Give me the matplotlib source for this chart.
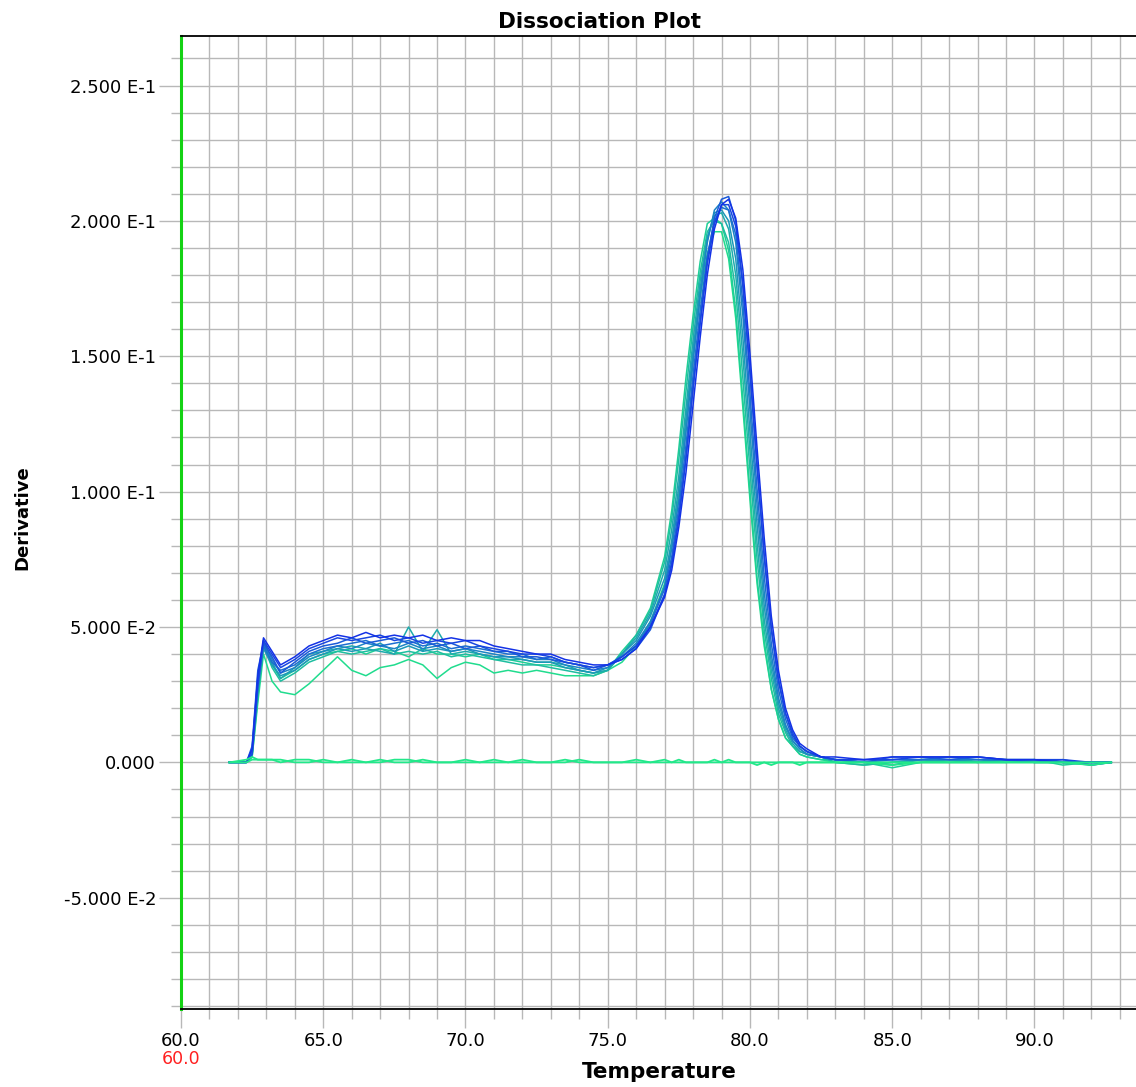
import matplotlib
matplotlib.use("Agg")
import matplotlib.pyplot as plt
from matplotlib.ticker import FixedLocator

plt.rcParams['font.family'] = ['DejaVu Sans']

# ---------------- data ----------------
temperature = [61.7, 62.3, 62.5, 62.7, 62.9,
               63.2, 63.5, 64.0, 64.5, 65.0, 65.5, 66.0, 66.5, 67.0, 67.5, 68.0, 68.5,
               69.0, 69.5, 70.0, 70.5, 71.0, 71.5, 72.0, 72.5, 73.0, 73.5, 74.0, 74.5, 75.0,
               75.5, 76.0, 76.5, 77.0, 77.25, 77.5, 77.75, 78.0, 78.25, 78.5, 78.75, 79.0,
               79.25, 79.5, 79.75, 80.0, 80.25, 80.5, 80.75, 81.0, 81.25, 81.5, 81.75, 82.0, 82.5,
               83.0, 84.0, 85.0, 86.0, 87.0, 88.0, 89.0, 90.0, 91.0, 92.0, 92.7]

well_1 = [0, 0, .005, .032, .046,
          .041, .036, .039, .043, .045, .047, .046, .048, .046, .047, .046, .047, .045, .046, .045, .045, .043, .042, .041, .040, .040, .038, .037, .036, .036,
          .038, .042, .050, .061, .071, .087, .107, .132, .157, .180, .197, .206, .208, .201, .182, .151, .116, .083, .054, .034, .020, .012, .007, .005, .002,
          .002, .001, .002, .002, .002, .002, .001, .001, .000, .000, .000]
well_2 = [0, 0, .003, .028, .045,
          .040, .035, .038, .042, .044, .046, .045, .046, .047, .045, .046, .044, .045, .044, .045, .043, .042, .041, .040, .040, .039, .037, .036, .035, .036,
          .039, .043, .050, .062, .073, .090, .112, .138, .162, .184, .199, .206, .206, .198, .176, .144, .109, .076, .049, .030, .018, .010, .006, .004, .002,
          .001, .001, .001, .002, .002, .002, .001, .001, .001, .000, .000]
well_3 = [0, 0, .006, .034, .044,
          .039, .033, .037, .041, .043, .044, .046, .044, .045, .046, .044, .045, .043, .044, .042, .043, .041, .041, .039, .039, .038, .037, .036, .034, .036,
          .038, .042, .049, .062, .074, .091, .113, .139, .163, .186, .201, .208, .209, .200, .177, .145, .110, .077, .050, .031, .018, .011, .006, .004, .002,
          .001, .000, .002, .002, .001, .002, .001, .000, .001, -.001, .000]
well_4 = [0, 0, .004, .030, .043,
          .037, .034, .036, .040, .042, .043, .044, .045, .043, .044, .045, .043, .044, .042, .043, .042, .041, .040, .040, .038, .039, .037, .036, .035, .036,
          .039, .043, .051, .064, .076, .094, .117, .143, .167, .187, .200, .205, .204, .195, .170, .136, .101, .069, .044, .027, .016, .009, .006, .004, .002,
          .001, .001, .001, .001, .002, .001, .001, .001, .000, .000, .000]
well_5 = [0, 0, .005, .031, .045,
          .038, .033, .035, .039, .041, .043, .042, .044, .043, .042, .044, .042, .043, .041, .042, .041, .040, .039, .039, .038, .038, .036, .035, .034, .035,
          .039, .044, .052, .065, .079, .097, .122, .148, .172, .192, .204, .207, .204, .192, .165, .130, .095, .063, .040, .024, .014, .008, .005, .003, .002,
          .001, .000, .001, .001, .001, .001, .001, .000, .000, .000, .000]
well_6 = [0, 0, .003, .026, .042,
          .036, .032, .034, .038, .040, .042, .041, .042, .044, .041, .043, .041, .042, .041, .042, .040, .039, .039, .038, .037, .037, .035, .034, .033, .035,
          .040, .045, .054, .068, .082, .102, .127, .152, .175, .193, .203, .204, .200, .186, .157, .122, .088, .058, .037, .022, .013, .008, .005, .003, .002,
          .001, .000, -.001, .001, .001, .000, .001, .001, .000, -.001, .000]
well_7 = [0, 0, .004, .029, .044,
          .037, .031, .035, .040, .041, .042, .043, .042, .041, .040, .050, .041, .049, .040, .041, .040, .039, .038, .038, .037, .037, .036, .034, .033, .034,
          .040, .046, .055, .071, .086, .106, .131, .156, .178, .194, .202, .203, .197, .180, .150, .115, .081, .053, .034, .020, .012, .007, .004, .003, .002,
          .000, .000, .000, .001, .001, .000, .001, .000, .000, .000, .000]
well_8 = [0, 0, .002, .024, .043,
          .035, .030, .033, .037, .039, .041, .040, .041, .042, .040, .041, .040, .041, .039, .040, .039, .038, .037, .036, .036, .035, .034, .033, .032, .034,
          .040, .047, .056, .074, .090, .112, .137, .161, .181, .196, .200, .199, .192, .174, .142, .108, .075, .049, .031, .018, .011, .006, .004, .003, .002,
          .000, -.001, .000, .001, .000, .001, .000, .001, .000, .000, .000]
well_9 = [0, 0, .003, .027, .044,
          .036, .031, .034, .038, .040, .041, .042, .040, .042, .041, .039, .042, .040, .040, .039, .040, .038, .038, .037, .036, .036, .035, .034, .033, .034,
          .041, .047, .057, .076, .093, .116, .142, .165, .185, .199, .201, .199, .189, .167, .134, .100, .068, .045, .027, .016, .009, .006, .003, .002, .001,
          .001, .000, -.002, .000, .001, .000, .000, .001, -.001, .000, .000]
well_10 = [0, 0, .002, .022, .040,
           .030, .026, .025, .029, .034, .039, .034, .032, .035, .036, .038, .036, .031, .035, .037, .036, .033, .034, .033, .034, .033, .032, .032, .032, .034,
           .037, .043, .052, .066, .080, .099, .124, .150, .172, .188, .196, .196, .186, .164, .131, .097, .066, .043, .027, .016, .009, .006, .003, .002, .001,
           .000, -.001, .000, .000, .000, .000, .001, .000, .000, .000, .000]
ntc_1 = [0, .000, .001, .001, .001,
         .001, .000, .001, .001, .000, .000, .001, .000, .000, .001, .001, .000, .000, .000, .001, .000, .000, .000, .001, .000, .000, .000, .001, .000, .000,
         .000, .001, .000, .000, .000, .001, .000, .000, .000, .000, .001, .000, .000, .000, .000, .000, -.001, .000, .000, .000, .000, .000, -.001, .000, .000,
         .000, .000, .000, .000, .000, .000, .000, .000, .000, .000, .000]
ntc_2 = [0, .001, .002, .001, .001,
         .001, .001, .000, .000, .001, .000, .000, .000, .001, .000, .000, .001, .000, .000, .000, .000, .001, .000, .000, .000, .000, .001, .000, .000, .000,
         .000, .000, .000, .001, .000, .000, .000, .000, .000, .000, .000, .000, .001, .000, .000, .000, .000, .000, -.001, .000, .000, .000, .000, .000, .000,
         .000, .000, -.001, .000, .000, .000, .000, .000, .000, -.001, .000]

sample_wells = [well_10, well_9, well_8, well_7, well_6, well_5, well_4, well_3, well_2, well_1]
sample_colors = ['#20dc8e', '#1fcf96', '#1ebea0', '#1dabac', '#1c98b8',
                 '#1c84c4', '#1b6ed0', '#1a5ad8', '#1846e0', '#1432e6']
ntc_wells = [ntc_1, ntc_2]
ntc_color = '#22e88a'

x_major = [60, 65, 70, 75, 80, 85, 90]
x_major_labels = ['60.0', '65.0', '70.0', '75.0', '80.0', '85.0', '90.0']
y_major = [-0.05, 0.0, 0.05, 0.10, 0.15, 0.20, 0.25]
y_major_labels = ['-5.000 E-2', '0.000', '5.000 E-2', '1.000 E-1', '1.500 E-1', '2.000 E-1', '2.500 E-1']

# ---------------- figure ----------------
W, H = 1136, 1087
fig = plt.figure(figsize=(W / 100, H / 100), dpi=100)
fig.patch.set_facecolor('white')
ax = fig.add_axes([181 / W, 78 / H, 955 / W, 973 / H])

for vals, col in zip(sample_wells, sample_colors):
    ax.plot(temperature, vals, color=col, lw=1.1, zorder=3)
for vals in ntc_wells:
    ax.plot(temperature, vals, color=ntc_color, lw=1.3, zorder=4)

ax.set_xlim(60, 93.57)
ax.set_ylim(-0.0911, 0.2683)

ax.xaxis.set_major_locator(FixedLocator(x_major))
ax.xaxis.set_minor_locator(FixedLocator(list(range(60, 94))))
ax.yaxis.set_major_locator(FixedLocator(y_major))
ax.yaxis.set_minor_locator(FixedLocator([k / 100 for k in range(-9, 27)]))
ax.set_xticklabels(x_major_labels)
ax.set_yticklabels(y_major_labels)

gcol = '#b8b8b8'
ax.grid(which='both', color=gcol, lw=1.0, zorder=1)
ax.set_axisbelow(True)
ax.tick_params(axis='y', which='major', length=16, width=1.0, color=gcol, pad=2, labelsize=13)
ax.tick_params(axis='y', which='minor', length=7, width=1.0, color=gcol)
ax.tick_params(axis='x', which='major', length=13.5, width=1.0, color=gcol, pad=3, labelsize=13)
ax.tick_params(axis='x', which='minor', length=7, width=1.0, color=gcol)

ax.spines['right'].set_visible(False)
ax.spines['top'].set_color('black')
ax.spines['top'].set_linewidth(1.3)
ax.spines['bottom'].set_color('black')
ax.spines['bottom'].set_linewidth(1.3)
ax.spines['left'].set_color('#14d214')
ax.spines['left'].set_linewidth(2.2)

fig.text(600 / W, 1 - 22 / H, 'Dissociation Plot', ha='center', va='center',
         fontsize=15.5, fontweight='bold')
fig.text(659 / W, 1 - 1072 / H, 'Temperature', ha='center', va='center',
         fontsize=15.5, fontweight='bold')
fig.text(22 / W, 1 - 518 / H, 'Derivative', ha='center', va='center',
         fontsize=13, fontweight='bold', rotation=90)
fig.text(181 / W, 1 - 1059 / H, '60.0', ha='center', va='center',
         fontsize=12.5, color='#ff2020')

fig.savefig('out.png', dpi=100)
